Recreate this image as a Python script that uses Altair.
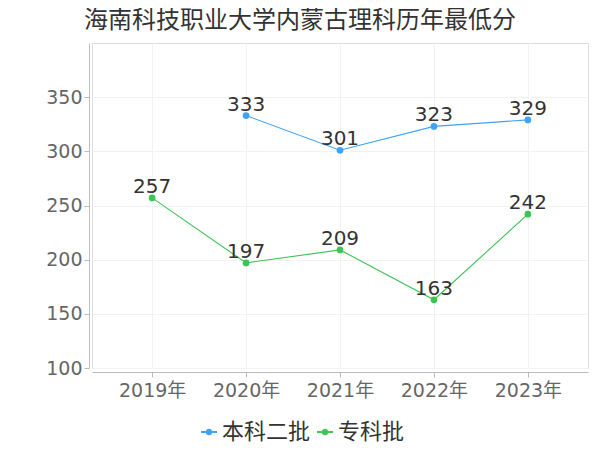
import altair as alt
import pandas as pd

years = ["2019年", "2020年", "2021年", "2022年", "2023年"]
series_a = "本科二批"
years_a = ["2020年", "2021年", "2022年", "2023年"]
values_a = [333, 301, 323, 329]
series_b = "专科批"
years_b = ["2019年", "2020年", "2021年", "2022年", "2023年"]
values_b = [257, 197, 209, 163, 242]
colors = ["#3fa2f7", "#3cc454"]
title = "海南科技职业大学内蒙古理科历年最低分"

rows = [{"year": y, "score": v, "series": series_a} for y, v in zip(years_a, values_a)]
rows += [{"year": y, "score": v, "series": series_b} for y, v in zip(years_b, values_b)]
df = pd.DataFrame(rows)

FONT = "DejaVu Sans, Noto Sans CJK SC"

legend_path = ("M-1,-0.12L-0.42,-0.12L-0.42,0.12L-1,0.12Z "
               "M0.42,-0.12L1,-0.12L1,0.12L0.42,0.12Z "
               "M-0.42,0A0.42,0.42 0 1,1 0.42,0A0.42,0.42 0 1,1 -0.42,0Z")

x = alt.X("year:N", sort=years, scale=alt.Scale(domain=years, type="point", padding=0.64),
          axis=alt.Axis(title=None, labelAngle=0, labelFontSize=19, labelColor="#666",
                        labelFont=FONT, domainColor="#bbb", tickColor="#bbb", tickSize=5,
                        offset=4, labelPadding=4, grid=True, gridColor="#f2f2f2"))
y = alt.Y("score:Q", scale=alt.Scale(domain=[100, 400], nice=False, zero=False),
          axis=alt.Axis(title=None, values=[100, 150, 200, 250, 300, 350], labelFontSize=19,
                        labelColor="#666", labelFont=FONT, domainColor="#bbb", tickColor="#bbb",
                        tickSize=5, offset=3, labelPadding=2, grid=True, gridColor="#f2f2f2"))
legend = alt.Legend(title=None, orient="none", direction="horizontal",
                    legendX=106, legendY=378, symbolType=legend_path,
                    symbolSize=256, labelFontSize=22, labelColor="#333",
                    labelFont=FONT, columnPadding=3, labelOffset=2,
                    symbolStrokeWidth=0)
color = alt.Color("series:N", sort=[series_a, series_b],
                  scale=alt.Scale(domain=[series_a, series_b], range=colors),
                  legend=legend)

base = alt.Chart(df).encode(x=x, y=y)
lines = base.mark_line(strokeWidth=1.1).encode(color=color)
points = base.mark_point(filled=True, size=45, opacity=1).encode(color=color)
labels = base.mark_text(dy=-1, baseline="bottom", fontSize=20, color="#333", font=FONT).encode(
    text="score:Q")

chart = alt.layer(lines, points, labels).properties(
    width=496, height=325,
    title=alt.TitleParams(title, anchor="start", frame="group", dx=-8, dy=2, fontSize=24,
                          fontWeight="normal", color="#333", font="Noto Sans CJK SC",
                          offset=12),
    autosize=alt.AutoSizeParams(type="none"),
    padding={"left": 84, "top": 35, "right": 4, "bottom": 90},
).configure_view(stroke="#f2f2f2").configure(background="white")

chart.save("out.html", embed_options={"renderer": "svg", "actions": False})
